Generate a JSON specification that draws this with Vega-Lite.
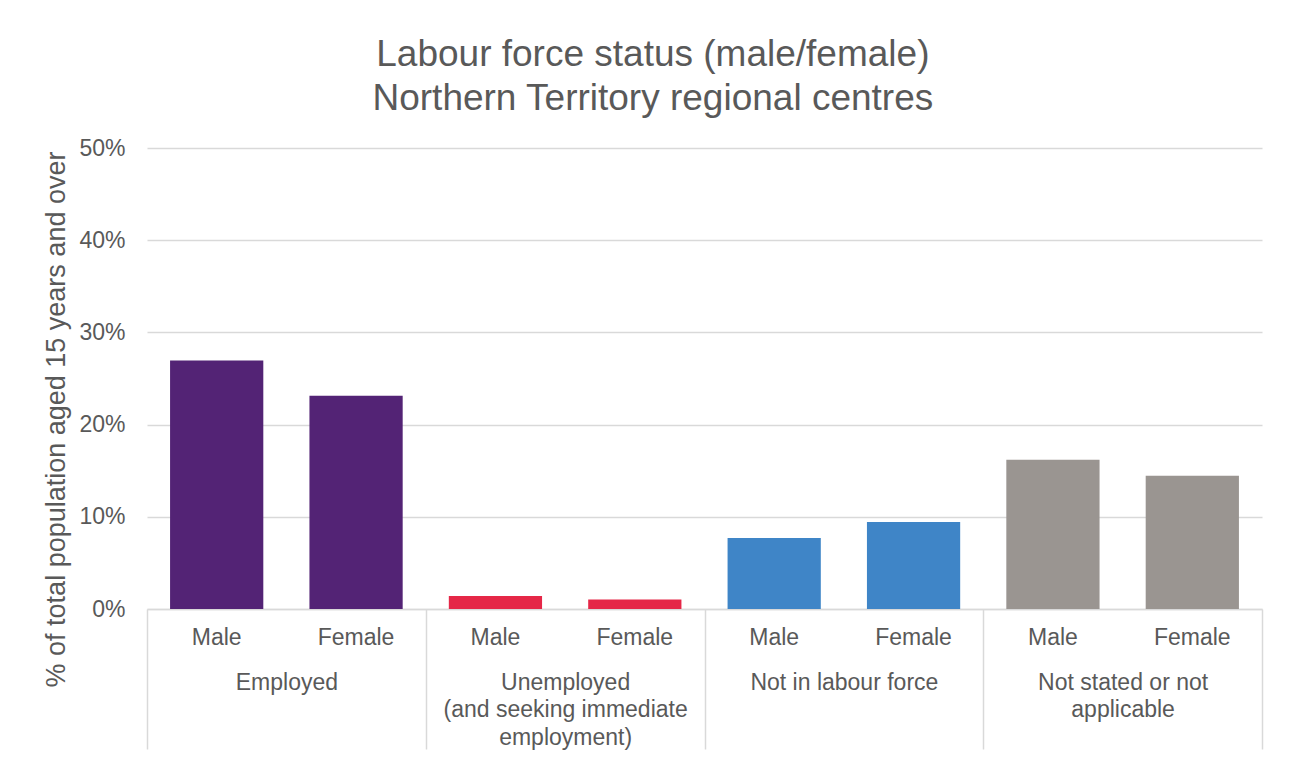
{
  "$schema": "https://vega.github.io/schema/vega-lite/v6.json",
  "width": 1115,
  "height": 461,
  "autosize": {"type": "none"},
  "padding": {"left": 147, "top": 148, "right": 30, "bottom": 149},
  "background": "white",
  "config": {
    "font": "Liberation Sans",
    "view": {"stroke": null},
    "axis": {"labelFont": "Liberation Sans", "titleFont": "Liberation Sans", "labelColor": "#595959", "titleColor": "#595959"}
  },
  "title": {
    "text": ["Labour force status (male/female)", "Northern Territory regional centres"],
    "fontSize": 37,
    "fontWeight": "normal",
    "color": "#595959",
    "lineHeight": 44,
    "anchor": "middle",
    "frame": "bounds",
    "baseline": "bottom",
    "offset": -18
  },
  "data": {
    "values": [
      {"id": "Employed|Male", "group": "Employed", "sex": "Male", "value": 0.2696},
      {"id": "Employed|Female", "group": "Employed", "sex": "Female", "value": 0.2314},
      {"id": "Unemployed|Male", "group": "Unemployed (and seeking immediate employment)", "sex": "Male", "value": 0.0140},
      {"id": "Unemployed|Female", "group": "Unemployed (and seeking immediate employment)", "sex": "Female", "value": 0.0104},
      {"id": "NILF|Male", "group": "Not in labour force", "sex": "Male", "value": 0.0769},
      {"id": "NILF|Female", "group": "Not in labour force", "sex": "Female", "value": 0.0943},
      {"id": "NS|Male", "group": "Not stated or not applicable", "sex": "Male", "value": 0.1619},
      {"id": "NS|Female", "group": "Not stated or not applicable", "sex": "Female", "value": 0.1445}
    ]
  },
  "layer": [
    {
      "mark": {"type": "bar"},
      "encoding": {
        "x": {
          "field": "id",
          "type": "nominal",
          "sort": null,
          "scale": {"paddingInner": 0.331, "paddingOuter": 0.1655},
          "axis": {
            "orient": "bottom",
            "title": null,
            "labelExpr": "split(datum.value, '|')[1]",
            "labelAngle": 0,
            "labelFontSize": 23,
            "labelPadding": 17,
            "ticks": false,
            "domain": true,
            "domainColor": "#d9d9d9",
            "domainWidth": 1.5,
            "labelOverlap": false,
            "labelLimit": 0
          }
        },
        "y": {
          "field": "value",
          "type": "quantitative",
          "scale": {"domain": [0, 0.5], "nice": false},
          "axis": {
            "values": [0, 0.1, 0.2, 0.3, 0.4, 0.5],
            "format": ".0%",
            "title": "% of total population aged 15 years and over",
            "titleFontSize": 27,
            "titleFontWeight": "normal",
            "titlePadding": 8,
            "titleY": 271,
            "labelFontSize": 23,
            "labelPadding": 22,
            "ticks": false,
            "domain": false,
            "grid": true,
            "gridColor": "#d9d9d9",
            "gridWidth": 1.5
          }
        },
        "color": {
          "field": "group",
          "type": "nominal",
          "legend": null,
          "scale": {
            "domain": ["Employed", "Unemployed (and seeking immediate employment)", "Not in labour force", "Not stated or not applicable"],
            "range": ["#532375", "#E52747", "#3F85C7", "#9A9591"]
          }
        }
      }
    },
    {
      "mark": {"type": "tick", "opacity": 0},
      "encoding": {
        "x": {
          "field": "group",
          "type": "nominal",
          "sort": null,
          "scale": {"paddingInner": 0, "paddingOuter": 0},
          "axis": {
            "orient": "bottom",
            "title": null,
            "labelAngle": 0,
            "labelExpr": "datum.value == 'Unemployed (and seeking immediate employment)' ? ['Unemployed', '(and seeking immediate', 'employment)'] : datum.value == 'Not stated or not applicable' ? ['Not stated or not', 'applicable'] : datum.value",
            "labelFontSize": 23,
            "labelLineHeight": 27.5,
            "labelPadding": -78,
            "labelOverlap": false,
            "labelLimit": 0,
            "labelBaseline": "top",
            "ticks": true,
            "tickBand": "extent",
            "tickSize": 140,
            "tickColor": "#d9d9d9",
            "tickWidth": 1.5,
            "domain": false,
            "grid": false
          }
        },
        "y": {"field": "value", "type": "quantitative"}
      }
    }
  ],
  "resolve": {"scale": {"x": "independent"}, "axis": {"x": "independent"}}
}
